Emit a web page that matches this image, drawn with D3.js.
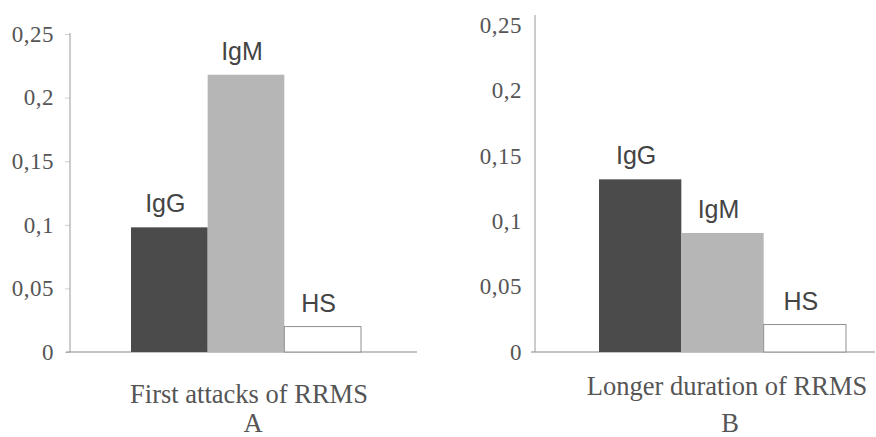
<!DOCTYPE html>
<html lang="en">
<head>
  <meta charset="UTF-8">
  <title>IgG / IgM / HS</title>
  <style>
    html, body { margin: 0; padding: 0; background: #fff; overflow: hidden; }
    svg { display: block; }
    .serif { font-family: "Liberation Serif", "Times New Roman", serif; }
    .sans { font-family: "Liberation Sans", Arial, sans-serif; }
  </style>
</head>
<body>
  <svg id="chart" width="876" height="437"></svg>
  <script src="https://d3js.org/d3.v7.min.js"></script>
  <script>
    const categories = ["IgG", "IgM", "HS"];
    const valuesA = [0.098, 0.218, 0.02];
    const valuesB = [0.132, 0.091, 0.021];
    const tickValues = [0, 0.05, 0.1, 0.15, 0.2, 0.25];
    const tickLabels = ["0", "0,05", "0,1", "0,15", "0,2", "0,25"];
    const titles = ["First attacks of RRMS", "Longer duration of RRMS"];
    const letters = ["A", "B"];

    const fills = { IgG: "#4b4b4b", IgM: "#b6b6b6", HS: "#ffffff" };
    const svg = d3.select("#chart");

    // panel geometry
    const panels = [
      { values: valuesA, axisX: 70, lineTop: 33, y0: 352, y25: 34, barL: 131, barR: 361, baseR: 417, labelX: 54,
        title: titles[0], titleX: 249, titleY: 403, letter: letters[0], letterX: 253, ticks: true },
      { values: valuesB, axisX: 535, lineTop: 15, y0: 352, y25: 25, barL: 599, barR: 846, baseR: 875, labelX: 522,
        title: titles[1], titleX: 727, titleY: 395, letter: letters[1], letterX: 730, ticks: false }
    ];

    panels.forEach(p => {
      const g = svg.append("g");
      const y = d3.scaleLinear().domain([0, 0.25]).range([p.y0, p.y25]);
      const x = d3.scaleBand().domain(categories).range([p.barL, p.barR]).padding(0);

      // vertical axis with tick labels
      const axis = d3.axisLeft(y)
        .tickValues(tickValues)
        .tickFormat((d, i) => tickLabels[i])
        .tickSize(p.ticks ? 5 : 0)
        .tickPadding(p.axisX - p.labelX - (p.ticks ? 5 : 0));
      const ax = g.append("g").attr("transform", `translate(${p.axisX},0)`).call(axis);
      ax.attr("font-family", null).attr("font-size", null);
      ax.select(".domain").remove();
      ax.selectAll(".tick line").attr("stroke", "#cfcfcf");
      ax.selectAll(".tick text")
        .attr("class", "serif")
        .attr("fill", "#555")
        .attr("font-size", 23)
        .attr("letter-spacing", 0.5);

      g.append("line")
        .attr("x1", p.axisX).attr("x2", p.axisX)
        .attr("y1", p.lineTop).attr("y2", p.y0)
        .attr("stroke", "#9a9a9a").attr("stroke-width", 1);
      g.append("line")
        .attr("x1", p.axisX - 4).attr("x2", p.baseR)
        .attr("y1", p.y0).attr("y2", p.y0)
        .attr("stroke", "#8a8a8a").attr("stroke-width", 1.2);

      // bars
      g.selectAll("rect.bar")
        .data(categories.map((c, i) => ({ c, v: p.values[i] })))
        .join("rect")
        .attr("class", "bar")
        .attr("x", d => x(d.c))
        .attr("width", x.bandwidth())
        .attr("y", d => y(d.v))
        .attr("height", d => y(0) - y(d.v))
        .attr("fill", d => fills[d.c])
        .attr("stroke", d => d.c === "HS" ? "#8f8f8f" : "none")
        .attr("stroke-width", 1);

      // bar labels
      g.selectAll("text.lbl")
        .data(categories.map((c, i) => ({ c, v: p.values[i] })))
        .join("text")
        .attr("class", "lbl sans")
        .attr("x", d => x(d.c) + x.bandwidth() / 2 - 4)
        .attr("y", d => y(d.v) - 15)
        .attr("text-anchor", "middle")
        .attr("fill", "#444")
        .attr("font-size", 25)
        .text(d => d.c);

      // captions
      g.append("text")
        .attr("class", "serif")
        .attr("x", p.titleX).attr("y", p.titleY)
        .attr("text-anchor", "middle")
        .attr("fill", "#555")
        .attr("font-size", 26.5)
        .text(p.title);
      g.append("text")
        .attr("class", "serif")
        .attr("x", p.letterX).attr("y", 432)
        .attr("text-anchor", "middle")
        .attr("fill", "#555")
        .attr("font-size", 26.5)
        .text(p.letter);
    });
  </script>
</body>
</html>
